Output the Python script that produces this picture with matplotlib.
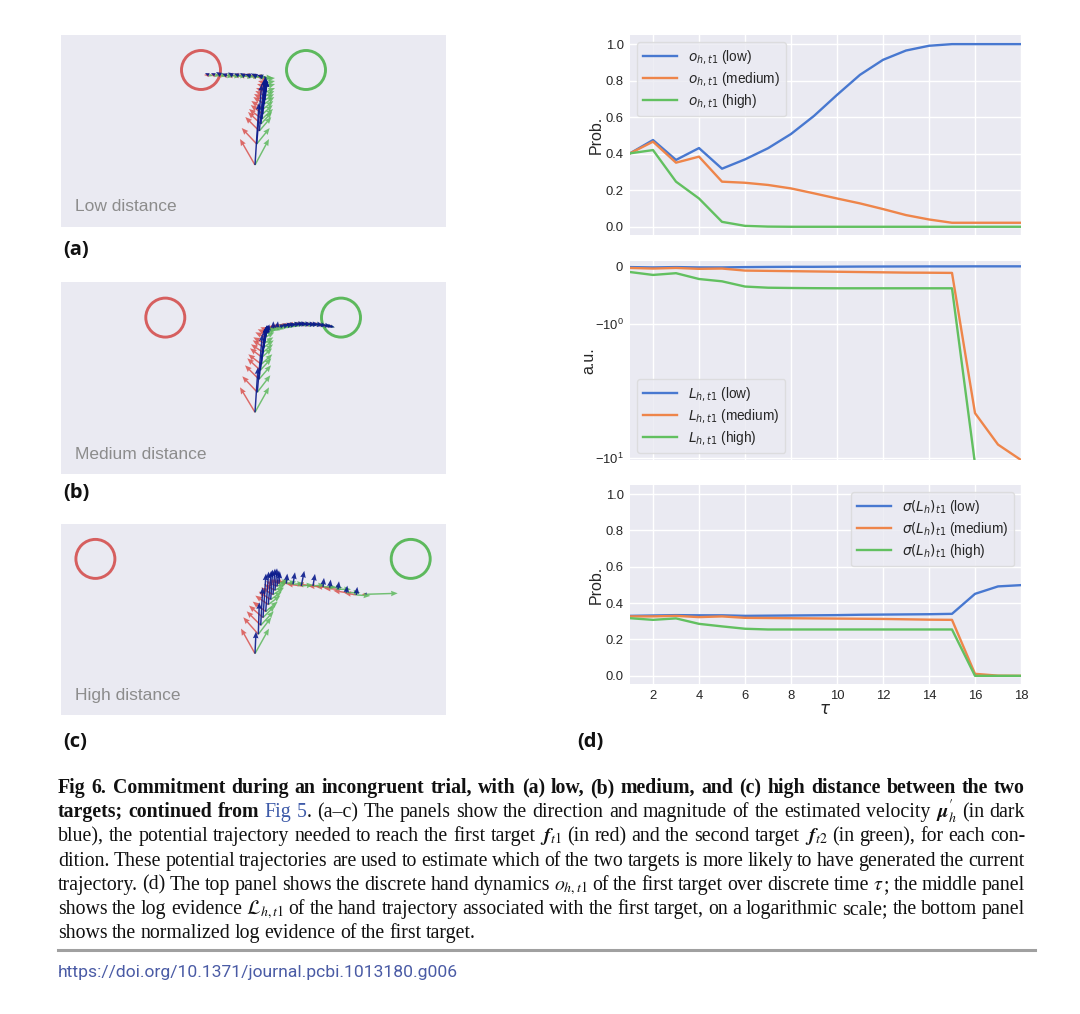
import matplotlib
matplotlib.use("Agg")
import matplotlib.pyplot as plt
from matplotlib.patches import Circle
from matplotlib.lines import Line2D
from matplotlib.transforms import IdentityTransform
from matplotlib.mathtext import MathTextParser

# ------------------------------------------------------------------ data
tau = list(range(1, 19))
tau_ticks = [2, 4, 6, 8, 10, 12, 14, 16, 18]
prob_ticks = [0.0, 0.2, 0.4, 0.6, 0.8, 1.0]
ev_ticks = [-10, -1, 0]
cond_names = ["low", "medium", "high"]

o_low = [0.402, 0.475, 0.366, 0.431, 0.318, 0.369, 0.430, 0.508, 0.607, 0.722,
         0.832, 0.914, 0.965, 0.991, 1.000, 1.000, 1.000, 1.000]
o_med = [0.402, 0.466, 0.351, 0.384, 0.247, 0.241, 0.229, 0.210, 0.183, 0.155,
         0.128, 0.097, 0.064, 0.040, 0.022, 0.022, 0.022, 0.022]
o_high = [0.402, 0.420, 0.247, 0.155, 0.027, 0.005, 0.001, 0.0, 0.0, 0.0,
          0.0, 0.0, 0.0, 0.0, 0.0, 0.0, 0.0, 0.0]

L_low = [-0.015, -0.020, -0.015, -0.020, -0.020, -0.015, -0.012, -0.010, -0.010,
         -0.008, -0.006, -0.005, -0.004, -0.003, -0.003, -0.002, -0.002, -0.002]
L_med = [-0.030, -0.040, -0.030, -0.045, -0.040, -0.075, -0.080, -0.085, -0.090,
         -0.095, -0.100, -0.105, -0.110, -0.112, -0.115, -4.6, -7.9, -10.3]
L_high = [-0.10, -0.15, -0.12, -0.22, -0.26, -0.35, -0.37, -0.375, -0.378,
          -0.38, -0.38, -0.38, -0.38, -0.38, -0.38, -11.0, -20.0, -30.0]

s_low = [0.330, 0.332, 0.334, 0.333, 0.333, 0.330, 0.331, 0.332, 0.333, 0.334,
         0.336, 0.337, 0.338, 0.339, 0.341, 0.451, 0.492, 0.499]
s_med = [0.327, 0.327, 0.330, 0.323, 0.327, 0.319, 0.318, 0.317, 0.316, 0.315,
         0.314, 0.313, 0.311, 0.309, 0.308, 0.011, 0.001, 0.0]
s_high = [0.317, 0.308, 0.316, 0.286, 0.272, 0.259, 0.255, 0.255, 0.255, 0.255,
          0.255, 0.255, 0.255, 0.255, 0.255, 0.0, 0.0, 0.0]

# hand-space data (units ~ pixels, start of movement at 0,0)
panel_titles = ["Low distance", "Medium distance", "High distance"]
panel_letters = ["(a)", "(b)", "(c)"]
target1_x = [-54.0, -89.7, -159.6]
target2_x = [51.0, 86.0, 155.7]
target_y = [95.0, 94.7, 94.7]
target_r = 19.5

a_x = [0, 1.7, 4.3, 6, 7, 7.7, 8.3, 9.3, 10, 10.3, 11, 11, 11, 11,
       8, 2, -4, -10, -16, -22, -28, -34, -40, -46]
a_y = [0, 21, 34, 41, 46, 51, 56, 61, 65, 69, 73, 78, 82, 86,
       88, 88.5, 89, 89, 89.5, 89.5, 89.5, 90, 90, 90]
a_bu = [4, 5, 5, 4, 4, 3, 3, 2, 2, 1, 1, 0, -1, -2,
        -6, -6, -6, -5, -5, -5, -5, -5, -4, -4]
a_bv = [62, 60, 52, 46, 40, 35, 30, 25, 20, 16, 12, 8, 5, 3,
        2, 3, 2, 3, 2, 3, 2, 3, 2, 2]
a_ru = [-15, -15, -14, -13, -13, -12, -12, -11, -11, -10, -10, -9, -8, -7,
        -8, -8, -8, -7, -7, -7, -6, -6, -5, -5]
a_rv = [26, 16, 14, 12, 10, 9, 8, 7, 6, 5, 4, 3, 2, 2,
        1, 1, 1, 1, 0, 0, 0, 0, 0, 0]
a_gu = [14, 13, 12, 11, 11, 10, 10, 10, 9, 9, 9, 9, 9, 9,
        10, 10, 9, 9, 8, 8, 7, 6, 5, 4]
a_gv = [26, 16, 14, 12, 10, 9, 8, 7, 6, 5, 4, 3, 2, 1,
        -1, -1, -1, -1, -1, -1, -1, -1, -1, -1]

b_x = [0, 2.3, 4, 5.3, 6.3, 7, 8, 8.7, 9.3, 10.3, 11.7, 13.3,
       18.3, 22, 25, 28.5, 31.7, 35, 38.3, 42, 45, 49, 53.3, 57.5, 61.7, 66, 70, 73, 75.7]
b_y = [0, 20, 33, 42, 48, 55, 60, 65, 69, 75, 79, 82,
       84, 85, 85.7, 86.2, 86.7, 87.2, 87.7, 88, 88.3, 88.2, 88, 88, 88, 87.5, 87, 86.5, 86]
b_bu = [3, 5, 6, 6, 5, 5, 4, 4, 3, 3, 2, 1,
        0, 1, 5, 6, 7, 7, 8, 8, 8, 8, 8, 7, 7, 6, 6, 5, 4]
b_bv = [45, 58, 50, 44, 38, 32, 27, 22, 17, 12, 8, 6,
        7, 6, 2, 2, 2, 1, 1, 1, 0, 0, 0, 0, -1, -1, -1, -1, -1]
b_ru = [-15, -15, -14, -13, -13, -12, -12, -11, -11, -10, -9, -8,
        -8, -8, -8, -7, -7, -7, -7, -6, -6, -6, -6, -5, -5, -5, -4, -4, -4]
b_rv = [25, 16, 14, 12, 10, 9, 8, 7, 6, 5, 4, 3,
        1, 1, 1, 1, 1, 0, 0, 0, 0, 0, 0, 0, 0, 0, 0, 0, 0]
b_gu = [14, 13, 12, 11, 11, 10, 10, 10, 9, 9, 9, 8,
        7, 7, 7, 7, 7, 7, 7, 6, 6, 6, 6, 5, 5, 5, 4, 4, 4]
b_gv = [25, 17, 14, 12, 10, 9, 8, 7, 6, 5, 4, 3,
        -2, -2, -1, -1, -1, -1, -1, -1, -1, -1, -1, -1, -1, -1, -1, -1, -1]

c_x = [0, 3.3, 5.7, 8, 10.7, 13.3, 15.7, 18, 20, 22, 24,
       31.3, 38, 46.3, 58, 68, 74.7, 83, 91.3, 101.3, 110.7]
c_y = [0, 19.3, 28.3, 36, 42, 49, 54, 59, 63.3, 67.3, 70,
       70, 69.3, 67.7, 67.7, 66.7, 66, 64.3, 61, 58.7, 59.3]
c_bu = [1, 1, 2, 3, 3, 3, 2, 2, 2, 2, 1,
        1, 2, 3, 2, 1, 1, 1, 1, 1, 1]
c_bv = [22, 32, 38, 44, 40, 34, 30, 26, 22, 16, 12,
        10, 12, 15, 12, 9, 8, 8, 7, 8, 2]
c_ru = [-14, -15, -14, -14, -13, -13, -12, -12, -11, -11, -10,
        -12, -14, -15, -16, -15, -14, -14, -13, -12, -4]
c_rv = [25, 17, 14, 12, 10, 9, 8, 7, 6, 5, 4,
        3, 3, 2, 2, 1, 1, 1, 2, 2, 0]
c_gu = [14, 13, 13, 12, 12, 12, 11, 11, 10, 10, 10,
        10, 11, 12, 12, 13, 13, 13, 14, 14, 32]
c_gv = [25, 17, 14, 12, 10, 9, 8, 7, 6, 5, 4,
        2, 1, 1, 1, 0, 0, 0, 0, -1, 1]

caption_lines = [
    [("Fig 6. Commitment during an incongruent trial, with (a) low, (b) medium, and (c) high distance between the two", "b")],
    [("targets; continued from ", "b"), ("Fig 5", "l"),
     (". (a\u2013c) The panels show the direction and magnitude of the estimated velocity ", "r"),
     (r"$\boldsymbol{\mu}^{\prime}_{h}$", "m"), (" (in dark", "r")],
    [("blue), the potential trajectory needed to reach the first target ", "r"), (r"$\boldsymbol{f}_{t1}$", "m"),
     (" (in red) and the second target ", "r"), (r"$\boldsymbol{f}_{t2}$", "m"), (" (in green), for each con-", "r")],
    [("dition. These potential trajectories are used to estimate which of the two targets is more likely to have generated the current", "r")],
    [("trajectory. (d) The top panel shows the discrete hand dynamics ", "r"), (r"$o_{h,t1}$", "m"),
     (" of the first target over discrete time ", "r"), (r"$\tau$", "m"), ("; the middle panel", "r")],
    [("shows the log evidence ", "r"), (r"$\mathcal{L}_{h,t1}$", "m"),
     (" of the hand trajectory associated with the first target, on a logarithmic scale; the bottom panel", "r")],
    [("shows the normalized log evidence of the first target.", "r")],
]
doi_text = "https://doi.org/10.1371/journal.pcbi.1013180.g006"

# ------------------------------------------------------------------ style
W, H = 1080, 1014
BG = "#EAEAF2"
C_BLUE, C_ORANGE, C_GREEN = "#4878D0", "#EE854A", "#62C060"
C_RED_T, C_GREEN_T = "#D65F5F", "#5DB95D"
C_ARR_R, C_ARR_G, C_ARR_B = "#D9534F", "#5CB85C", "#0A1A8C"

plt.rcParams.update({
    "font.family": ["Liberation Sans", "DejaVu Sans"],
    "axes.facecolor": BG,
    "axes.edgecolor": "white",
    "axes.grid": True,
    "axes.axisbelow": True,
    "grid.color": "white",
    "grid.linewidth": 1.0,
    "xtick.major.size": 0,
    "ytick.major.size": 0,
    "xtick.minor.size": 0,
    "ytick.minor.size": 0,
    "xtick.color": "#262626",
    "ytick.color": "#262626",
    "text.color": "#262626",
    "axes.labelcolor": "#262626",
    "xtick.labelsize": 9.4,
    "ytick.labelsize": 9.4,
    "xtick.major.pad": 4.5,
    "ytick.major.pad": 4.5,
    "legend.fontsize": 9.8,
})

fig = plt.figure(figsize=(W / 100, H / 100), dpi=100)


def ax_px(l, t, r, b):
    return fig.add_axes([l / W, (H - b) / H, (r - l) / W, (b - t) / H])


# ------------------------------------------------------------------ left panels
panel_data = [
    (a_x, a_y, a_bu, a_bv, a_ru, a_rv, a_gu, a_gv),
    (b_x, b_y, b_bu, b_bv, b_ru, b_rv, b_gu, b_gv),
    (c_x, c_y, c_bu, c_bv, c_ru, c_rv, c_gu, c_gv),
]
panel_tops = [35.0, 282.3, 523.6]
letter_y = [250, 493, 742]
qkw = dict(angles="xy", scale_units="xy", scale=1, width=0.0038,
           headwidth=3.8, headlength=4.6, headaxislength=4.2)

for i, (px, py, bu, bv, ru, rv, gu, gv) in enumerate(panel_data):
    top = panel_tops[i]
    ax = ax_px(60.7, top, 446.0, top + 191.7)
    ax.set_facecolor(BG)
    ax.grid(False)
    ax.set_xticks([])
    ax.set_yticks([])
    for s in ax.spines.values():
        s.set_visible(False)
    ax.set_xlim(-194.3, 191.0)
    ax.set_ylim(-61.7, 130.0)
    ax.add_patch(Circle((target1_x[i], target_y[i]), target_r, fill=False,
                        ec=C_RED_T, lw=2.1))
    ax.add_patch(Circle((target2_x[i], target_y[i]), target_r, fill=False,
                        ec=C_GREEN_T, lw=2.1))
    ax.quiver(px, py, ru, rv, color=C_ARR_R, alpha=0.85, **qkw)
    ax.quiver(px, py, gu, gv, color=C_ARR_G, alpha=0.85, **qkw)
    ax.quiver(px, py, bu, bv, color=C_ARR_B, alpha=0.9, **qkw)
    ax.text(0.037, 0.103, panel_titles[i], transform=ax.transAxes, va="center",
            ha="left", fontsize=12.5, color="#8C8C8C")
    fig.text(63 / W, (H - letter_y[i]) / H, panel_letters[i], fontsize=14.5,
             fontweight="bold", family=["Open Sans", "DejaVu Sans"],
             va="center", ha="left", color="#111111")

fig.text(577 / W, (H - 742) / H, "(d)", fontsize=14.5, fontweight="bold",
         family=["Open Sans", "DejaVu Sans"], va="center", ha="left",
         color="#111111")

# ------------------------------------------------------------------ right panels
ax1 = ax_px(630, 35, 1021, 235)
ax2 = ax_px(630, 261, 1021, 460)
ax3 = ax_px(630, 485, 1021, 684)
colors = [C_BLUE, C_ORANGE, C_GREEN]

for ser, c, n in zip([o_low, o_med, o_high], colors, cond_names):
    ax1.plot(tau, ser, color=c, lw=1.7, label=r"$o_{h,t1}$ (%s)" % n)
for ser, c, n in zip([L_low, L_med, L_high], colors, cond_names):
    ax2.plot(tau, ser, color=c, lw=1.7, label=r"$L_{h,t1}$ (%s)" % n)
for ser, c, n in zip([s_low, s_med, s_high], colors, cond_names):
    ax3.plot(tau, ser, color=c, lw=1.7, label=r"$\sigma(L_h)_{t1}$ (%s)" % n)

for ax in (ax1, ax2, ax3):
    ax.set_xlim(1, 18)
    ax.set_xticks(tau_ticks)
    for s in ax.spines.values():
        s.set_visible(False)

for ax in (ax1, ax3):
    ax.set_ylim(-0.045, 1.05)
    ax.set_yticks(prob_ticks)
    ax.set_ylabel("Prob.", fontsize=11.5, labelpad=1)

ax2.set_yscale("symlog", linthresh=1, linscale=0.39)
ax2.set_ylim(-10.3, 0.09)
ax2.set_yticks(ev_ticks)
ax2.yaxis.set_minor_locator(matplotlib.ticker.NullLocator())
ax2.set_ylabel("a.u.", fontsize=11.5, labelpad=-1)

ax1.tick_params(labelbottom=False)
ax2.tick_params(labelbottom=False)
ax3.set_xlabel(r"$\tau$", fontsize=12, labelpad=0)

lkw = dict(handlelength=2.5, labelspacing=0.3, borderpad=0.45,
           handletextpad=0.8, framealpha=0.8, edgecolor="0.85")
ax1.legend(loc="upper left", **lkw)
ax2.legend(loc="lower left", **lkw)
ax3.legend(loc="upper right", **lkw)

# ------------------------------------------------------------------ caption
renderer = fig.canvas.get_renderer()
serif = ["Liberation Serif", "DejaVu Serif"]
cap_styles = {
    "b": dict(family=serif, weight="bold", color="#111111"),
    "r": dict(family=serif, color="#111111"),
    "l": dict(family=serif, color="#3D5AA8"),
    "m": dict(family=serif, color="#111111", math_fontfamily="stix"),
}

_parser = MathTextParser("path")


def math_ok(s):
    try:
        _parser.parse(s, prop=matplotlib.font_manager.FontProperties())
        return True
    except Exception:
        return False


def fix_math(s):
    if "\\boldsymbol" in s and not math_ok(s):
        s = s.replace("\\boldsymbol", "\\mathbf")
    return s


def split_words(segs):
    words = []
    new_word = True
    for txt, st in segs:
        if st == "m":
            parts = [fix_math(txt)]
        else:
            parts = txt.split(" ")
        for k, p in enumerate(parts):
            if k > 0:
                new_word = True
            if p == "":
                continue
            if new_word or not words:
                words.append([(p, st)])
            else:
                words[-1].append((p, st))
            new_word = False
    return words


def measure(piece, st, size):
    t = fig.text(0, 0, piece, fontsize=size, transform=IdentityTransform(),
                 va="baseline", **cap_styles[st])
    w = t.get_window_extent(renderer).width
    t.remove()
    return w


x_left, x_right = 58.0, 1025.0
base_size = 16.0
space_frac = 0.22
all_words = [split_words(l) for l in caption_lines]
nat = []
for words in all_words:
    tot = sum(measure(p, st, base_size) for w in words for p, st in w)
    tot += space_frac * base_size * 100 / 72 * (len(words) - 1)
    nat.append(tot)
ratio = max(nat[:-1]) / (x_right - x_left)
size = base_size / ratio * 0.998 if ratio > 1 else base_size

baseline0, line_step = 793.0, 24.2
for li, words in enumerate(all_words):
    ws = [[measure(p, st, size) for p, st in w] for w in words]
    wtot = sum(sum(w) for w in ws)
    if li < len(all_words) - 1 and len(words) > 1:
        gap = (x_right - x_left - wtot) / (len(words) - 1)
    else:
        gap = space_frac * size * 100 / 72
    x = x_left
    yb = H - (baseline0 + li * line_step)
    for w, wl in zip(words, ws):
        for (p, st), pw in zip(w, wl):
            fig.text(x, yb, p, fontsize=size, transform=IdentityTransform(),
                     va="baseline", ha="left", **cap_styles[st])
            x += pw
        x += gap

fig.add_artist(Line2D([58 / W, 1035 / W], [(H - 950) / H] * 2,
                      color="#A0A0A0", lw=2.2, transform=fig.transFigure))
fig.text(58 / W, (H - 972) / H, doi_text, fontsize=12.6,
         family=["Liberation Sans Narrow", "Roboto", "DejaVu Sans"],
         color="#4A5BA5", va="center", ha="left")

fig.savefig("out.png", dpi=100, facecolor="white")
